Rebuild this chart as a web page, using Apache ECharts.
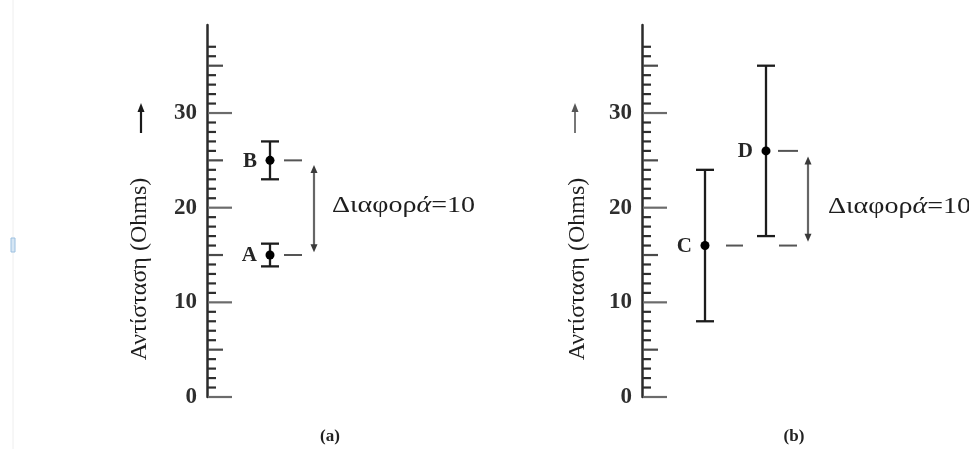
<!DOCTYPE html>
<html><head><meta charset="utf-8">
<script src="https://cdn.jsdelivr.net/npm/echarts@6/dist/echarts.min.js"></script>
<style>html,body{margin:0;padding:0;background:#fff}#c{width:969px;height:449px}</style>
</head><body><div id="c"></div>
<script>
// ---- data ----
const panelTitles = ['(a)', '(b)'];
const yAxisName = 'Αντίσταση (Ohms)';
const tickLabels = [0, 10, 20, 30];
const tickValues = [0,1,2,3,4,5,6,7,8,9,10,11,12,13,14,15,16,17,18,19,20,21,22,23,24,25,26,27,28,29,30,31,32,33,34,35,36,37];
const diffLabel = 'Διαφορά=10';

const namesA = ['A', 'B'];
const meanA = [15, 25];
const lowA = [13.8, 23];
const highA = [16.2, 27];

const namesB = ['C', 'D'];
const meanB = [16, 26];
const lowB = [8, 17];
const highB = [24, 35];

// ---- layout (x positions in hidden axis units, not data) ----
const layouts = [
  { gridLeft: 207, pointX: [6.3, 6.3], dashes: [[7.7, 9.5, 0], [7.7, 9.5, 1]], arrowX: 10.7, arrowInset: [0.5, 0.3], textX: 12.5, textY: 20.2 },
  { gridLeft: 642, pointX: [6.3, 12.4], dashes: [[8.4, 10.1, 0], [13.7, 15.5, 0], [13.6, 15.6, 1]], arrowX: 16.6, arrowInset: [0.6, 0.4], textX: 18.6, textY: 20.1 }
];
const panelData = [
  { names: namesA, mean: meanA, low: lowA, high: highA },
  { names: namesB, mean: meanB, low: lowB, high: highB }
];

const SERIF = '"Liberation Serif", "Times New Roman", serif';
const chart = echarts.init(document.getElementById('c'));

const grids = [], xAxes = [], yAxes = [], series = [];
panelData.forEach((pd, i) => {
  const L = layouts[i];
  grids.push({ left: L.gridLeft, top: 25, height: 372, width: 300, containLabel: false, outerBoundsMode: 'none' });
  xAxes.push({ gridIndex: i, type: 'value', min: 0, max: 30, show: false });
  yAxes.push({
    gridIndex: i, type: 'value', min: 0, max: 39.3, interval: 10,
    axisLine: { show: true, onZero: false, lineStyle: { color: '#2b2b2b', width: 2.5 } },
    axisTick: { show: false }, splitLine: { show: false },
    axisLabel: {
      margin: 10, color: '#2e2e2e', fontWeight: 'bold', fontSize: 23, fontFamily: SERIF,
      formatter: v => tickLabels.indexOf(v) >= 0 ? String(v) : ''
    }
  });
  // ticks
  series.push({
    type: 'custom', xAxisIndex: i, yAxisIndex: i, silent: true,
    data: tickValues.map(v => [0, v]),
    encode: { x: 0, y: 1 },
    renderItem: (params, api) => {
      const v = api.value(1);
      const p = api.coord([0, v]);
      const major = v % 10 === 0, half = v % 5 === 0;
      const len = major ? 25 : (half ? 16 : 9);
      return { type: 'line', shape: { x1: p[0] + 1, y1: p[1], x2: p[0] + len, y2: p[1] },
        style: { stroke: major ? '#6b6b6b' : (half ? '#4a4a4a' : '#2e2e2e'), lineWidth: 2.2 } };
    }
  });
  // error bars with points and names
  series.push({
    type: 'custom', xAxisIndex: i, yAxisIndex: i, silent: true,
    data: pd.mean.map((m, k) => [L.pointX[k], pd.low[k], m, pd.high[k]]),
    encode: { x: 0, y: [1, 2, 3] },
    renderItem: (params, api) => {
      const x = api.value(0);
      const pLo = api.coord([x, api.value(1)]);
      const pMid = api.coord([x, api.value(2)]);
      const pHi = api.coord([x, api.value(3)]);
      const cap = 9, st = { stroke: '#1c1c1c', lineWidth: 2.3 };
      return { type: 'group', children: [
        { type: 'line', shape: { x1: pLo[0], y1: pLo[1], x2: pHi[0], y2: pHi[1] }, style: st },
        { type: 'line', shape: { x1: pHi[0] - cap, y1: pHi[1], x2: pHi[0] + cap, y2: pHi[1] }, style: st },
        { type: 'line', shape: { x1: pLo[0] - cap, y1: pLo[1], x2: pLo[0] + cap, y2: pLo[1] }, style: st },
        { type: 'circle', shape: { cx: pMid[0], cy: pMid[1], r: 4.5 }, style: { fill: '#000' } },
        { type: 'text', x: pMid[0] - 13, y: pMid[1] + 1,
          style: { text: pd.names[params.dataIndex], align: 'right', verticalAlign: 'middle',
            font: 'bold 21px ' + SERIF, fill: '#262626' } }
      ] };
    }
  });
  // dashes
  series.push({
    type: 'custom', xAxisIndex: i, yAxisIndex: i, silent: true,
    data: L.dashes.map(d => [d[0], d[1], pd.mean[d[2]]]),
    encode: { x: [0, 1], y: 2 },
    renderItem: (params, api) => {
      const a = api.coord([api.value(0), api.value(2)]);
      const b = api.coord([api.value(1), api.value(2)]);
      return { type: 'line', shape: { x1: a[0], y1: a[1], x2: b[0], y2: b[1] },
        style: { stroke: '#555', lineWidth: 2 } };
    }
  });
  // double arrow
  const hiM = Math.max.apply(null, pd.mean), loM = Math.min.apply(null, pd.mean);
  series.push({
    type: 'custom', xAxisIndex: i, yAxisIndex: i, silent: true,
    data: [[L.arrowX, hiM - L.arrowInset[0], loM + L.arrowInset[1]]],
    encode: { x: 0, y: [1, 2] },
    renderItem: (params, api) => {
      const t = api.coord([api.value(0), api.value(1)]);
      const b = api.coord([api.value(0), api.value(2)]);
      const hw = 3.5, hh = 8, col = '#3a3a3a';
      return { type: 'group', children: [
        { type: 'line', shape: { x1: t[0], y1: t[1] + hh - 1, x2: b[0], y2: b[1] - hh + 1 }, style: { stroke: '#666', lineWidth: 2.2 } },
        { type: 'polygon', shape: { points: [[t[0], t[1]], [t[0] - hw, t[1] + hh], [t[0] + hw, t[1] + hh]] }, style: { fill: col } },
        { type: 'polygon', shape: { points: [[b[0], b[1]], [b[0] - hw, b[1] - hh], [b[0] + hw, b[1] - hh]] }, style: { fill: col } }
      ] };
    }
  });
  // difference text
  series.push({
    type: 'custom', xAxisIndex: i, yAxisIndex: i, silent: true,
    data: [[L.textX, L.textY]],
    encode: { x: 0, y: 1 },
    renderItem: (params, api) => {
      const p = api.coord([api.value(0), api.value(1)]);
      const txt = diffLabel.replace('ά', '{i|ά}');
      return { type: 'text', x: p[0], y: p[1], scaleX: 1.22, originX: 0, originY: 0,
        style: { text: txt, align: 'left', verticalAlign: 'middle', font: '23px ' + SERIF, fill: '#1e1e1e',
          rich: { i: { fontStyle: 'italic', fontSize: 23, fontFamily: SERIF, fill: '#1e1e1e' } } } };
    }
  });
});

const graphic = [];
const nameX = [140, 578], arrowX = [141, 575], titleX = [330, 794];
[0, 1].forEach(i => {
  graphic.push({ type: 'text', x: nameX[i], y: 269, rotation: Math.PI / 2,
    style: { text: yAxisName, align: 'center', verticalAlign: 'middle', font: '24px ' + SERIF, fill: '#1e1e1e' } });
  const ac = i === 0 ? '#1a1a1a' : '#555';
  graphic.push({ type: 'line', shape: { x1: arrowX[i], y1: 133, x2: arrowX[i], y2: 110 }, style: { stroke: ac, lineWidth: i === 0 ? 2.2 : 1.6 } });
  graphic.push({ type: 'polygon', shape: { points: [[arrowX[i], 103], [arrowX[i] - 3.5, 112], [arrowX[i] + 3.5, 112]] }, style: { fill: ac } });
  graphic.push({ type: 'text', x: titleX[i], y: 437,
    style: { text: panelTitles[i], align: 'center', verticalAlign: 'middle', font: 'bold 17px ' + SERIF, fill: '#222' } });
});
graphic.push({ type: 'line', shape: { x1: 13, y1: 0, x2: 13, y2: 449 }, style: { stroke: '#eeeeee', lineWidth: 1 } });
graphic.push({ type: 'rect', shape: { x: 11, y: 238, width: 4, height: 14 }, style: { fill: '#d6e6f4', stroke: '#9cc0e0', lineWidth: 1 } });

chart.setOption({
  backgroundColor: '#ffffff',
  animation: false,
  grid: grids, xAxis: xAxes, yAxis: yAxes, series: series, graphic: graphic
});
</script>
</body></html>
